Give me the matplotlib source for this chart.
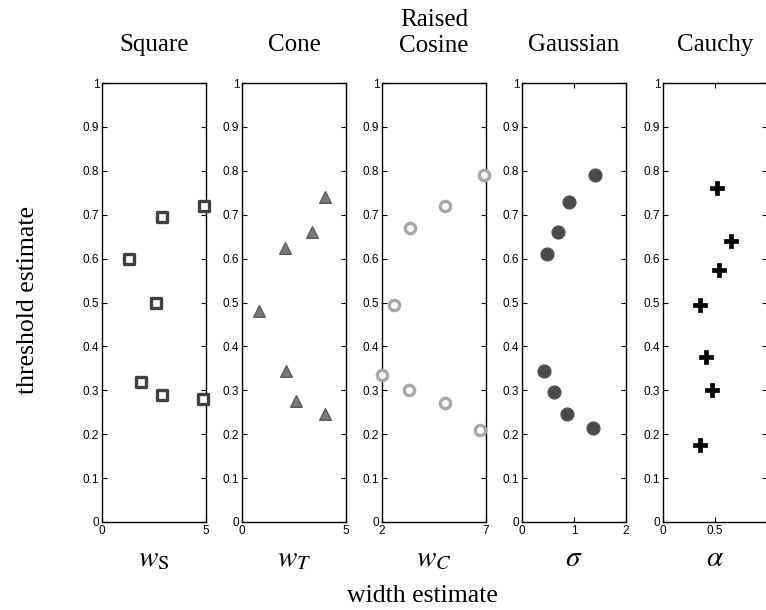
import matplotlib
matplotlib.use("Agg")
import matplotlib.pyplot as plt

# Données : (largeur, seuil) pour chaque fonction
square_w = [1.3, 1.86, 2.62, 2.9, 2.9, 4.92, 4.84]
square_t = [0.60, 0.32, 0.50, 0.695, 0.29, 0.72, 0.28]

cone_w = [0.8, 2.06, 3.37, 4.0, 2.1, 2.6, 4.0]
cone_t = [0.48, 0.625, 0.66, 0.74, 0.345, 0.275, 0.245]

cosine_w = [2.0, 2.56, 3.36, 3.3, 5.05, 5.05, 6.9, 6.7]
cosine_t = [0.335, 0.495, 0.67, 0.30, 0.72, 0.27, 0.79, 0.21]

gauss_w = [0.48, 0.70, 0.90, 1.41, 0.42, 0.62, 0.87, 1.36]
gauss_t = [0.61, 0.66, 0.73, 0.79, 0.345, 0.295, 0.245, 0.215]

cauchy_w = [0.515, 0.65, 0.54, 0.36, 0.41, 0.47, 0.36]
cauchy_t = [0.76, 0.64, 0.575, 0.495, 0.375, 0.30, 0.175]

titles = ["Square", "Cone", "Raised\nCosine", "Gaussian", "Cauchy"]
xlabels = [r"$w_{\mathrm{S}}$", r"$w_T$", r"$w_C$", r"$\sigma$", r"$\alpha$"]
xlims = [(0, 5), (0, 5), (2, 7), (0, 2), (0, 1)]
xticks = [[0, 5], [0, 5], [2, 7], [0, 1, 2], [0, 0.5, 1]]
# le "1" du dernier panneau tombe hors de l'image dans l'original
xtick_labels = [["0", "5"], ["0", "5"], ["2", "7"], ["0", "1", "2"], ["0", "0.5", ""]]
yticks = [0, 0.1, 0.2, 0.3, 0.4, 0.5, 0.6, 0.7, 0.8, 0.9, 1]
ytick_labels = ["0", "0.1", "0.2", "0.3", "0.4", "0.5", "0.6", "0.7", "0.8", "0.9", "1"]

series = [(square_w, square_t), (cone_w, cone_t), (cosine_w, cosine_t),
          (gauss_w, gauss_t), (cauchy_w, cauchy_t)]

# style des marqueurs (un par panneau)
styles = [
    dict(marker="s", s=60, facecolor="white", edgecolor="#404040", linewidths=2.4),
    dict(marker="^", s=70, facecolor="#7a7a7a", edgecolor="#5a5a5a", linewidths=1),
    dict(marker="o", s=55, facecolor="white", edgecolor="#a8a8a8", linewidths=2.4),
    dict(marker="o", s=85, facecolor="#4a4a4a", edgecolor="#555555", linewidths=1),
    dict(marker="P", s=100, facecolor="black", edgecolor="black", linewidths=0.5),
]

plt.rcParams["mathtext.fontset"] = "stix"
serif = "Liberation Serif"
sans = "Liberation Sans"

W, H = 766, 610
fig = plt.figure(figsize=(W / 100, H / 100), dpi=100)

lefts = [102, 242, 382, 522, 663]
top, bottom = 83, 522
for i in range(5):
    ax = fig.add_axes([lefts[i] / W, (H - bottom) / H, 104 / W, (bottom - top) / H])
    x, y = series[i]
    ax.scatter(x, y, clip_on=False, zorder=3, **styles[i])
    ax.set_xlim(*xlims[i])
    ax.set_ylim(0, 1)
    ax.set_xticks(xticks[i])
    ax.set_xticklabels(xtick_labels[i], fontfamily=sans, fontsize=8.5)
    ax.set_yticks(yticks)
    ax.set_yticklabels(ytick_labels, fontfamily=sans, fontsize=8.5)
    ax.tick_params(direction="in", top=True, right=True, length=3.5, width=0.8, pad=2)
    for sp in ax.spines.values():
        sp.set_linewidth(1.0)
    cx = (lefts[i] + 52) / W
    if "\n" in titles[i]:
        fig.text(cx, 1 - 33 / H, titles[i], ha="center", va="center",
                 fontfamily=serif, fontsize=18, linespacing=1.25)
    else:
        fig.text(cx, 1 - 45 / H, titles[i], ha="center", va="center",
                 fontfamily=serif, fontsize=18)
    fig.text(cx, 1 - 558 / H, xlabels[i], ha="center", va="center", fontsize=21)

fig.text(28 / W, 1 - 300 / H, "threshold estimate", rotation=90, ha="center",
         va="center", fontfamily=serif, fontsize=18.5)
fig.text(422 / W, 1 - 596 / H, "width estimate", ha="center", va="center",
         fontfamily=serif, fontsize=18.5)

fig.savefig("out.png", dpi=100)
